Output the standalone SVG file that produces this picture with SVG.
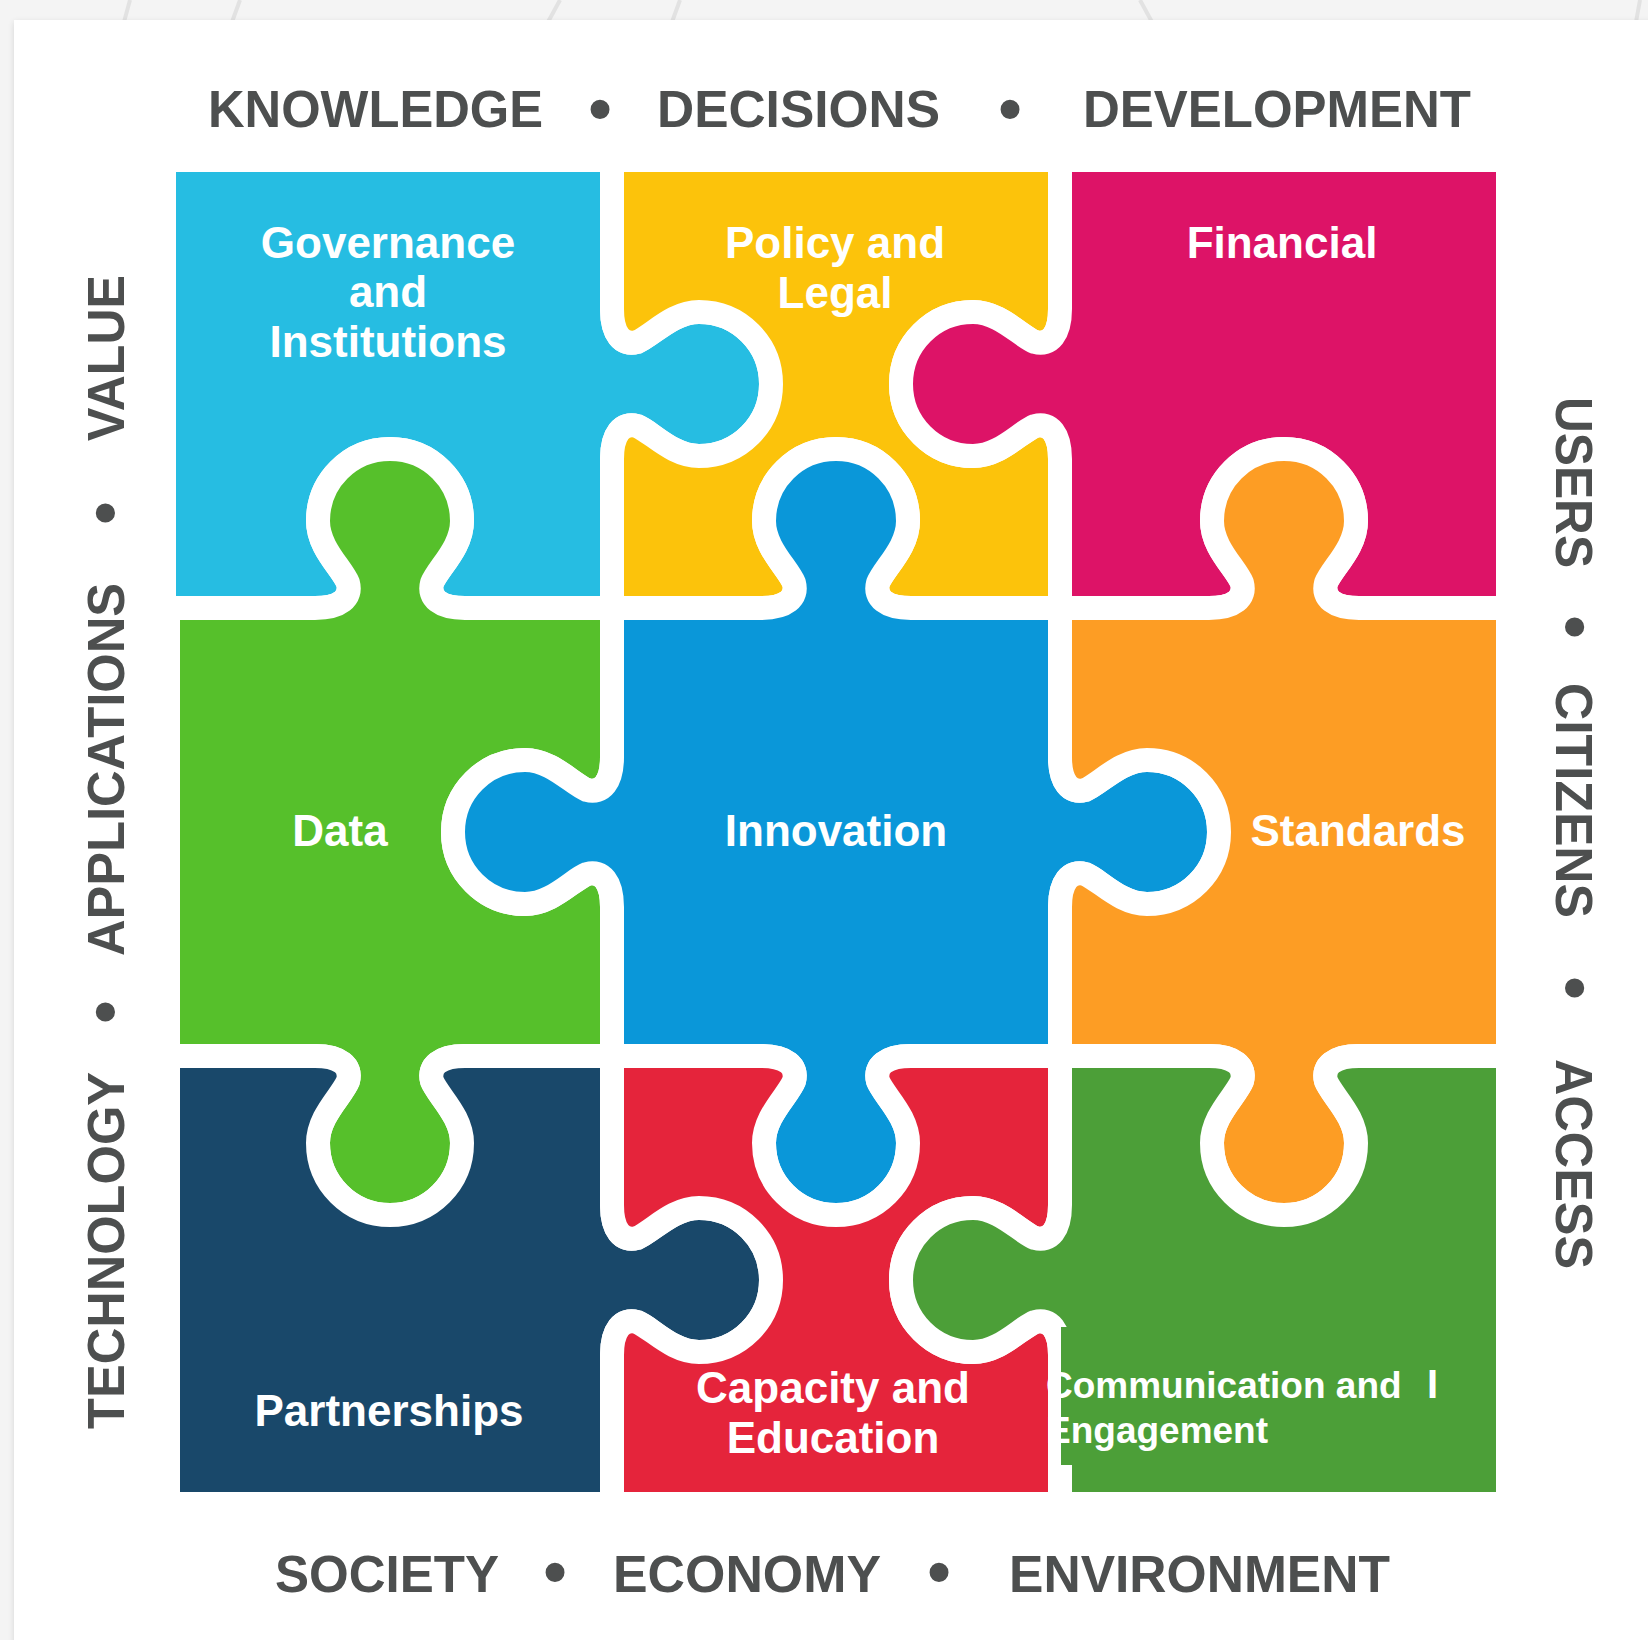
<svg xmlns="http://www.w3.org/2000/svg" width="1648" height="1640" viewBox="0 0 1648 1640">
<defs>
<style>
.piece{stroke:#fff;stroke-width:24;stroke-linejoin:round}
.lbl{font-family:"Liberation Sans",Arial,Helvetica,sans-serif;font-weight:bold;fill:#fff;font-size:44px;text-anchor:middle}
.lbl.left{text-anchor:start;font-size:37px}
.axis{font-family:"Liberation Sans",Arial,Helvetica,sans-serif;font-weight:bold;fill:#4d4f4f;font-size:52px}
.dot{font-family:"Liberation Sans",Arial,Helvetica,sans-serif;font-weight:bold;fill:#4d4f4f;font-size:66px;text-anchor:middle}
</style>
<filter id="sh" x="-5%" y="-5%" width="110%" height="110%"><feGaussianBlur stdDeviation="3"/></filter>
</defs>
<rect x="0" y="0" width="1648" height="1640" fill="#f4f4f4"/>
<g fill="none" stroke="#e2e2e2" stroke-width="4">
<path d="M130,0 L124,22"/><path d="M240,0 L232,22"/><path d="M560,0 L548,22"/><path d="M680,0 L672,22"/><path d="M1140,0 L1152,22"/><path d="M1640,0 L1636,22"/>
</g>
<rect x="14" y="22" width="1640" height="1630" fill="#000" opacity="0.12" filter="url(#sh)"/>
<rect x="14" y="20" width="1640" height="1630" fill="#fff"/>

<g id="axis-top">
<text class="axis" x="208" y="127" textLength="335" lengthAdjust="spacingAndGlyphs">KNOWLEDGE</text>
<text class="dot" x="600" y="131">•</text>
<text class="axis" x="657" y="127" textLength="283" lengthAdjust="spacingAndGlyphs">DECISIONS</text>
<text class="dot" x="1010" y="131">•</text>
<text class="axis" x="1083" y="127" textLength="388" lengthAdjust="spacingAndGlyphs">DEVELOPMENT</text>
</g>
<g id="axis-bottom">
<text class="axis" x="275" y="1592" textLength="224" lengthAdjust="spacingAndGlyphs">SOCIETY</text>
<text class="dot" x="555" y="1594">•</text>
<text class="axis" x="613" y="1592" textLength="268" lengthAdjust="spacingAndGlyphs">ECONOMY</text>
<text class="dot" x="939" y="1594">•</text>
<text class="axis" x="1009" y="1592" textLength="381" lengthAdjust="spacingAndGlyphs">ENVIRONMENT</text>
</g>
<g id="axis-left">
<text class="axis" transform="translate(124,1429) rotate(-90)" textLength="357" lengthAdjust="spacingAndGlyphs">TECHNOLOGY</text>
<text class="dot" transform="translate(105,1012) rotate(-90)" y="22">•</text>
<text class="axis" transform="translate(124,956) rotate(-90)" textLength="373" lengthAdjust="spacingAndGlyphs">APPLICATIONS</text>
<text class="dot" transform="translate(105,513) rotate(-90)" y="22">•</text>
<text class="axis" transform="translate(124,441) rotate(-90)" textLength="166" lengthAdjust="spacingAndGlyphs">VALUE</text>
</g>
<g id="axis-right">
<text class="axis" transform="translate(1556,397) rotate(90)" textLength="171" lengthAdjust="spacingAndGlyphs">USERS</text>
<text class="dot" transform="translate(1575,627) rotate(90)" y="22">•</text>
<text class="axis" transform="translate(1556,683) rotate(90)" textLength="235" lengthAdjust="spacingAndGlyphs">CITIZENS</text>
<text class="dot" transform="translate(1575,988) rotate(90)" y="22">•</text>
<text class="axis" transform="translate(1556,1059) rotate(90)" textLength="210" lengthAdjust="spacingAndGlyphs">ACCESS</text>
</g>

<g id="governance">
<path class="piece" fill="#26bde2" d="M164,160 H612 V309 C612,334 622,346 637,342 C652,336 672,312 699,312 C739,312 771,344 771,384 C771,424 739,456 699,456 C672,456 652,432 637,426 C622,422 612,434 612,459 V608 H465 C440,608 428,598 432,583 C438,568 462,548 462,521 C462,481 430,449 390,449 C350,449 318,481 318,521 C318,548 342,568 348,583 C352,598 340,608 315,608 H164 Z"/>
<text class="lbl" x="388" y="258">Governance</text>
<text class="lbl" x="388" y="307">and</text>
<text class="lbl" x="388" y="357">Institutions</text>
</g>
<g id="policy">
<path class="piece" fill="#fcc30b" d="M612,160 H1060 V309 C1060,334 1050,346 1035,342 C1020,336 1000,312 973,312 C933,312 901,344 901,384 C901,424 933,456 973,456 C1000,456 1020,432 1035,426 C1050,422 1060,434 1060,459 V608 H911 C886,608 874,598 878,583 C884,568 908,548 908,521 C908,481 876,449 836,449 C796,449 764,481 764,521 C764,548 788,568 794,583 C798,598 786,608 761,608 H612 V459 C612,434 622,422 637,426 C652,432 672,456 699,456 C739,456 771,424 771,384 C771,344 739,312 699,312 C672,312 652,336 637,342 C622,346 612,334 612,309 Z"/>
<text class="lbl" x="835" y="258">Policy and</text>
<text class="lbl" x="835" y="308">Legal</text>
</g>
<g id="financial">
<path class="piece" fill="#dd1367" d="M1060,160 H1508 V608 H1359 C1334,608 1322,598 1326,583 C1332,568 1356,548 1356,521 C1356,481 1324,449 1284,449 C1244,449 1212,481 1212,521 C1212,548 1236,568 1242,583 C1246,598 1234,608 1209,608 H1060 V459 C1060,434 1050,422 1035,426 C1020,432 1000,456 973,456 C933,456 901,424 901,384 C901,344 933,312 973,312 C1000,312 1020,336 1035,342 C1050,346 1060,334 1060,309 Z"/>
<text class="lbl" x="1282" y="258">Financial</text>
</g>
<g id="data">
<path class="piece" fill="#56c02b" d="M168,608 H315 C340,608 352,598 348,583 C342,568 318,548 318,521 C318,481 350,449 390,449 C430,449 462,481 462,521 C462,548 438,568 432,583 C428,598 440,608 465,608 H612 V757 C612,782 602,794 587,790 C572,784 552,760 525,760 C485,760 453,792 453,832 C453,872 485,904 525,904 C552,904 572,880 587,874 C602,870 612,882 612,907 V1056 H465 C440,1056 428,1066 432,1081 C438,1096 462,1116 462,1143 C462,1183 430,1215 390,1215 C350,1215 318,1183 318,1143 C318,1116 342,1096 348,1081 C352,1066 340,1056 315,1056 H168 Z"/>
<text class="lbl" x="340" y="846">Data</text>
</g>
<g id="innovation">
<path class="piece" fill="#0a97d9" d="M612,608 H761 C786,608 798,598 794,583 C788,568 764,548 764,521 C764,481 796,449 836,449 C876,449 908,481 908,521 C908,548 884,568 878,583 C874,598 886,608 911,608 H1060 V757 C1060,782 1070,794 1085,790 C1100,784 1120,760 1147,760 C1187,760 1219,792 1219,832 C1219,872 1187,904 1147,904 C1120,904 1100,880 1085,874 C1070,870 1060,882 1060,907 V1056 H911 C886,1056 874,1066 878,1081 C884,1096 908,1116 908,1143 C908,1183 876,1215 836,1215 C796,1215 764,1183 764,1143 C764,1116 788,1096 794,1081 C798,1066 786,1056 761,1056 H612 V907 C612,882 602,870 587,874 C572,880 552,904 525,904 C485,904 453,872 453,832 C453,792 485,760 525,760 C552,760 572,784 587,790 C602,794 612,782 612,757 Z"/>
<text class="lbl" x="836" y="846">Innovation</text>
</g>
<g id="standards">
<path class="piece" fill="#fd9d24" d="M1060,608 H1209 C1234,608 1246,598 1242,583 C1236,568 1212,548 1212,521 C1212,481 1244,449 1284,449 C1324,449 1356,481 1356,521 C1356,548 1332,568 1326,583 C1322,598 1334,608 1359,608 H1508 V1056 H1359 C1334,1056 1322,1066 1326,1081 C1332,1096 1356,1116 1356,1143 C1356,1183 1324,1215 1284,1215 C1244,1215 1212,1183 1212,1143 C1212,1116 1236,1096 1242,1081 C1246,1066 1234,1056 1209,1056 H1060 V907 C1060,882 1070,870 1085,874 C1100,880 1120,904 1147,904 C1187,904 1219,872 1219,832 C1219,792 1187,760 1147,760 C1120,760 1100,784 1085,790 C1070,794 1060,782 1060,757 Z"/>
<text class="lbl" x="1358" y="846">Standards</text>
</g>
<g id="partnerships">
<path class="piece" fill="#19486a" d="M168,1056 H315 C340,1056 352,1066 348,1081 C342,1096 318,1116 318,1143 C318,1183 350,1215 390,1215 C430,1215 462,1183 462,1143 C462,1116 438,1096 432,1081 C428,1066 440,1056 465,1056 H612 V1205 C612,1230 622,1242 637,1238 C652,1232 672,1208 699,1208 C739,1208 771,1240 771,1280 C771,1320 739,1352 699,1352 C672,1352 652,1328 637,1322 C622,1318 612,1330 612,1355 V1504 H168 Z"/>
<text class="lbl" x="389" y="1426">Partnerships</text>
</g>
<g id="capacity">
<path class="piece" fill="#e5243b" d="M612,1056 H761 C786,1056 798,1066 794,1081 C788,1096 764,1116 764,1143 C764,1183 796,1215 836,1215 C876,1215 908,1183 908,1143 C908,1116 884,1096 878,1081 C874,1066 886,1056 911,1056 H1060 V1205 C1060,1230 1050,1242 1035,1238 C1020,1232 1000,1208 973,1208 C933,1208 901,1240 901,1280 C901,1320 933,1352 973,1352 C1000,1352 1020,1328 1035,1322 C1050,1318 1060,1330 1060,1355 V1504 H612 V1355 C612,1330 622,1318 637,1322 C652,1328 672,1352 699,1352 C739,1352 771,1320 771,1280 C771,1240 739,1208 699,1208 C672,1208 652,1232 637,1238 C622,1242 612,1230 612,1205 Z"/>
<text class="lbl" x="833" y="1403" font-size="45">Capacity and</text>
<text class="lbl" x="833" y="1453" font-size="45">Education</text>
</g>
<g id="communication">
<path class="piece" fill="#4c9f38" d="M1060,1056 H1209 C1234,1056 1246,1066 1242,1081 C1236,1096 1212,1116 1212,1143 C1212,1183 1244,1215 1284,1215 C1324,1215 1356,1183 1356,1143 C1356,1116 1332,1096 1326,1081 C1322,1066 1334,1056 1359,1056 H1508 V1504 H1060 V1355 C1060,1330 1050,1318 1035,1322 C1020,1328 1000,1352 973,1352 C933,1352 901,1320 901,1280 C901,1240 933,1208 973,1208 C1000,1208 1020,1232 1035,1238 C1050,1242 1060,1230 1060,1205 Z"/>
<rect x="1061" y="1327" width="30" height="138" fill="#4c9f38"/>
<text class="lbl left" x="1046" y="1398">Communication and</text>
<text class="lbl left" x="1427" y="1398" style="font-size:40px">I</text>
<text class="lbl left" x="1046" y="1443">Engagement</text>
</g>
</svg>
